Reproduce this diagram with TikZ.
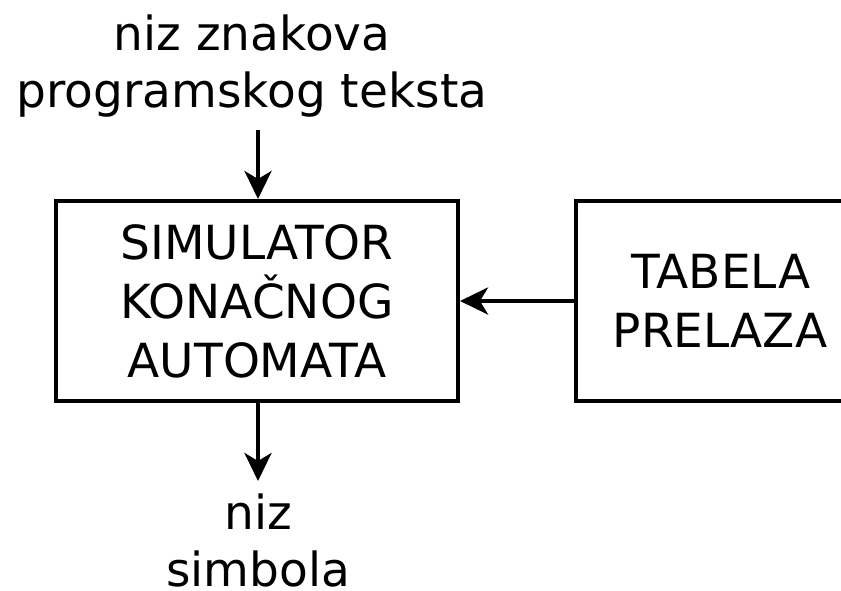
\documentclass[tikz,border=0pt]{standalone}
\usepackage{fontspec}
\setmainfont{DejaVu Sans}
\usetikzlibrary{arrows.meta}
\begin{document}
\begin{tikzpicture}[x=1pt,y=-1pt,
  lbl/.style={inner sep=0pt,align=center,font=\fontsize{47}{57}\selectfont},
  blk/.style={draw,line width=4pt,inner sep=0pt,align=center,font=\fontsize{47}{59}\selectfont},
  arr/.style={line width=4pt,-{Stealth[length=28pt,width=27pt,inset=8pt]}}]
\useasboundingbox (0,0) rectangle (841,590);
\node[lbl] (src) at (252,66) {niz znakova\\programskog teksta};
\node[blk,minimum width=402pt,minimum height=200pt] (sim) at (257,301) {SIMULATOR\\KONAČNOG\\AUTOMATA};
\node[blk,minimum width=290pt,minimum height=200pt] (tab) at (721,301) {TABELA\\PRELAZA\hspace*{2pt}};
\node[lbl] (out) at (258,540) {niz\\simbola};
\coordinate (srcend) at (258,130);
\coordinate (outend) at (258,481);
\draw[arr] (srcend) -- (sim.north -| srcend);
\draw[arr] (sim.south -| outend) -- (outend);
\draw[arr] (tab.west) -- (sim.east);
\end{tikzpicture}
\end{document}
